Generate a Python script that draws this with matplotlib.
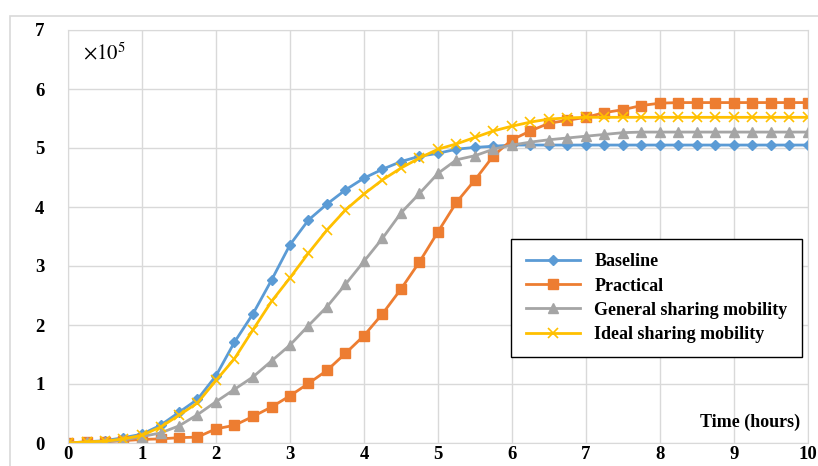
import numpy as np
import matplotlib.pyplot as plt
from matplotlib.patches import Rectangle

hours = [i * 0.25 for i in range(41)]

baseline = [0.00, 0.02, 0.04, 0.09, 0.15, 0.30, 0.52, 0.74, 1.14, 1.71, 2.19, 2.76,
            3.36, 3.78, 4.05, 4.29, 4.49, 4.64, 4.77, 4.86, 4.91, 4.98, 5.01, 5.03,
            5.05, 5.05, 5.05, 5.05, 5.05, 5.05, 5.05, 5.05, 5.05, 5.05, 5.05, 5.05,
            5.05, 5.05, 5.05, 5.05, 5.05]
practical = [0.00, 0.01, 0.02, 0.04, 0.06, 0.07, 0.09, 0.10, 0.24, 0.30, 0.45, 0.61,
             0.80, 1.01, 1.23, 1.52, 1.82, 2.19, 2.61, 3.07, 3.58, 4.08, 4.46, 4.87,
             5.14, 5.29, 5.42, 5.47, 5.52, 5.60, 5.65, 5.72, 5.76, 5.77, 5.77, 5.77,
             5.77, 5.77, 5.77, 5.77, 5.77]
general = [0.00, 0.01, 0.02, 0.05, 0.11, 0.17, 0.29, 0.48, 0.70, 0.91, 1.12, 1.39,
           1.66, 1.99, 2.31, 2.69, 3.08, 3.47, 3.90, 4.23, 4.57, 4.80, 4.87, 4.98,
           5.05, 5.10, 5.14, 5.17, 5.20, 5.23, 5.26, 5.27, 5.27, 5.27, 5.27, 5.27,
           5.27, 5.27, 5.27, 5.27, 5.27]
ideal = [0.00, 0.02, 0.03, 0.07, 0.13, 0.27, 0.47, 0.68, 1.06, 1.43, 1.92, 2.40,
         2.80, 3.22, 3.61, 3.95, 4.22, 4.46, 4.66, 4.83, 4.98, 5.07, 5.18, 5.29,
         5.37, 5.44, 5.49, 5.51, 5.52, 5.52, 5.52, 5.52, 5.52, 5.52, 5.52, 5.52,
         5.52, 5.52, 5.52, 5.52, 5.52]

series_names = ["Baseline", "Practical", "General sharing mobility", "Ideal sharing mobility"]

plt.rcParams['font.family'] = ['Liberation Serif', 'DejaVu Serif']
plt.rcParams['mathtext.fontset'] = 'stix'

fig = plt.figure(figsize=(8.18, 4.66), dpi=100)
# light frame around the whole chart area
fig.patches.append(Rectangle((10 / 818, -0.2), 1.2, 1.2 - 16 / 466, transform=fig.transFigure,
                             fill=False, edgecolor='#D9D9D9', linewidth=1.2))
ax = fig.add_axes([68 / 818, 23 / 466, 740 / 818, 413 / 466])

ax.plot(hours, baseline, color='#5B9BD5', lw=2, marker='D', ms=5.5, label=series_names[0])
ax.plot(hours, practical, color='#ED7D31', lw=2, marker='s', ms=6.5, label=series_names[1])
ax.plot(hours, general, color='#A5A5A5', lw=2, marker='^', ms=7, label=series_names[2])
ax.plot(hours, ideal, color='#FFC000', lw=2, marker='x', ms=7, mew=1.2, label=series_names[3])

ax.set_xlim(0, 10)
ax.set_ylim(0, 7)
ax.set_xticks(range(0, 11))
ax.set_yticks(range(0, 8))
ax.grid(True, color='#D9D9D9', lw=1)
ax.set_axisbelow(True)
for s in ax.spines.values():
    s.set_color('#D9D9D9')
ax.tick_params(length=0, labelsize=13.5)
ax.tick_params(axis='y', pad=17)
ax.tick_params(axis='x', pad=2.5)
for lab in ax.get_xticklabels() + ax.get_yticklabels():
    lab.set_fontweight('bold')

ax.text(0.02, 0.97, r'$\times 10^5$', transform=ax.transAxes, fontsize=15, va='top', ha='left')
ax.text(0.99, 0.03, 'Time (hours)', transform=ax.transAxes, fontsize=13,
        fontweight='bold', ha='right', va='bottom')

leg = ax.legend(loc='upper right', bbox_to_anchor=(1.004, 0.516), fancybox=False,
                framealpha=1, edgecolor='black', prop={'weight': 'bold', 'size': 13},
                handlelength=3, labelspacing=0.4, borderpad=0.8, handletextpad=0.8)
leg.get_frame().set_linewidth(1)

fig.savefig('out.png', dpi=100)
